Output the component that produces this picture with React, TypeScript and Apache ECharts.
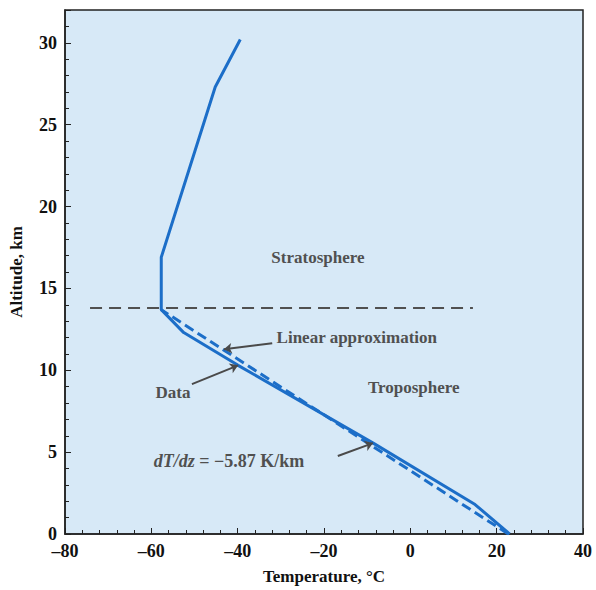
import React, { useEffect, useRef } from "react";
import * as echarts from "echarts";

// Measured temperature profile [T (°C), altitude (km)]
const dataTemp = [23, 15, -8.6, -39.9, -52.5, -57.7, -57.7, -45.2, -39.4];
const dataAlt = [0, 1.8, 5.55, 10.3, 12.3, 13.7, 16.9, 27.3, 30.2];
// Linear approximation (dT/dz = -5.87 K/km)
const linTemp = [22.7, -57.7];
const linAlt = [0, 13.7];
// Tropopause marker
const tropoTemp = [-74.2, 14.5];
const tropoAlt = [13.8, 13.8];

const xTicks = [-80, -60, -40, -20, 0, 20, 40];
const yTicks = [0, 5, 10, 15, 20, 25, 30];

const serif = "'Liberation Serif', 'DejaVu Serif', serif";
const gray = "#505050";
const blue = "#1c6ec8";

export default function App() {
  const ref = useRef<HTMLDivElement>(null);
  useEffect(() => {
    const chart = echarts.init(ref.current!, null, { renderer: "svg" });
    const pts = (xs: number[], ys: number[]) => xs.map((x, i) => [x, ys[i]]);
    const txt = (coord: number[], text: string, extra: any = {}) => ({
      coord,
      value: 0,
      symbol: "circle",
      symbolSize: 1,
      itemStyle: { color: "rgba(0,0,0,0)" },
      label: {
        show: true,
        position: "inside",
        formatter: text,
        color: gray,
        fontFamily: serif,
        fontSize: 17,
        fontWeight: 600,
        ...extra,
      },
    });
    const arrow = (a: number[], b: number[]) => [
      { coord: a, symbol: "none" },
      { coord: b, symbol: "arrow" },
    ];
    chart.setOption({
      animation: false,
      grid: {
        left: 65,
        right: 13,
        top: 10,
        bottom: 55,
        show: true,
        backgroundColor: "#d7e9f7",
        borderColor: "#222",
        borderWidth: 1.5,
      },
      xAxis: {
        type: "value",
        min: -80,
        max: 40,
        interval: 20,
        name: "Temperature, °C",
        nameLocation: "middle",
        nameGap: 34,
        nameTextStyle: { fontFamily: serif, fontSize: 17, fontWeight: "bold", color: "#111" },
        axisLine: { onZero: false, lineStyle: { color: "#222", width: 1.5 } },
        axisTick: { inside: true, length: 6, lineStyle: { color: "#222" } },
        minorTick: { show: true, splitNumber: 5, length: 4, lineStyle: { color: "#222" } },
        splitLine: { show: false },
        axisLabel: {
          fontFamily: serif,
          fontSize: 18,
          fontWeight: "bold",
          color: "#111",
          margin: 8,
          formatter: (v: number) => (xTicks.includes(v) ? String(v).replace("-", "–") : ""),
        },
      },
      yAxis: {
        type: "value",
        min: 0,
        max: 32,
        interval: 5,
        name: "Altitude, km",
        nameLocation: "middle",
        nameGap: 40,
        nameTextStyle: { fontFamily: serif, fontSize: 17, fontWeight: "bold", color: "#111" },
        axisLine: { onZero: false, lineStyle: { color: "#222", width: 1.5 } },
        axisTick: { inside: true, length: 6, lineStyle: { color: "#222" } },
        minorTick: { show: true, splitNumber: 5, length: 4, lineStyle: { color: "#222" } },
        splitLine: { show: false },
        axisLabel: {
          fontFamily: serif,
          fontSize: 18,
          fontWeight: "bold",
          color: "#111",
          margin: 8,
          formatter: (v: number) => (yTicks.includes(v) ? String(v) : ""),
        },
      },
      series: [
        {
          type: "line",
          name: "Tropopause",
          data: pts(tropoTemp, tropoAlt),
          symbol: "none",
          lineStyle: { color: gray, width: 2, type: [12, 7] },
          z: 1,
        },
        {
          type: "line",
          name: "Linear approximation",
          data: pts(linTemp, linAlt),
          symbol: "none",
          lineStyle: { color: blue, width: 3, type: [10, 5] },
          z: 2,
        },
        {
          type: "line",
          name: "Data",
          data: pts(dataTemp, dataAlt),
          symbol: "none",
          lineStyle: { color: blue, width: 3 },
          z: 3,
          markPoint: {
            data: [
              txt([-21.4, 16.9], "Stratosphere"),
              txt([-12.4, 12.0], "Linear approximation"),
              txt([0.8, 8.96], "Troposphere"),
              txt([-55.0, 8.66], "Data"),
              txt([-42.0, 4.45], "{i|dT/dz} = −5.87 K/km", {
                fontSize: 18,
                rich: {
                  i: { fontStyle: "italic", fontWeight: 600, color: gray, fontFamily: serif, fontSize: 18 },
                },
              }),
            ],
          },
          markLine: {
            silent: true,
            symbolSize: 8,
            label: { show: false },
            lineStyle: { color: "#4a4a4a", width: 2, type: "solid" },
            data: [
              arrow([-32.0, 11.65], [-43.2, 11.28]),
              arrow([-50.6, 9.15], [-39.9, 10.3]),
              arrow([-16.8, 4.76], [-8.65, 5.55]),
            ],
          },
        },
      ],
    });
    return () => chart.dispose();
  }, []);
  return <div ref={ref} style={{ width: 596, height: 590, position: "absolute", left: 0, top: 0 }} />;
}
